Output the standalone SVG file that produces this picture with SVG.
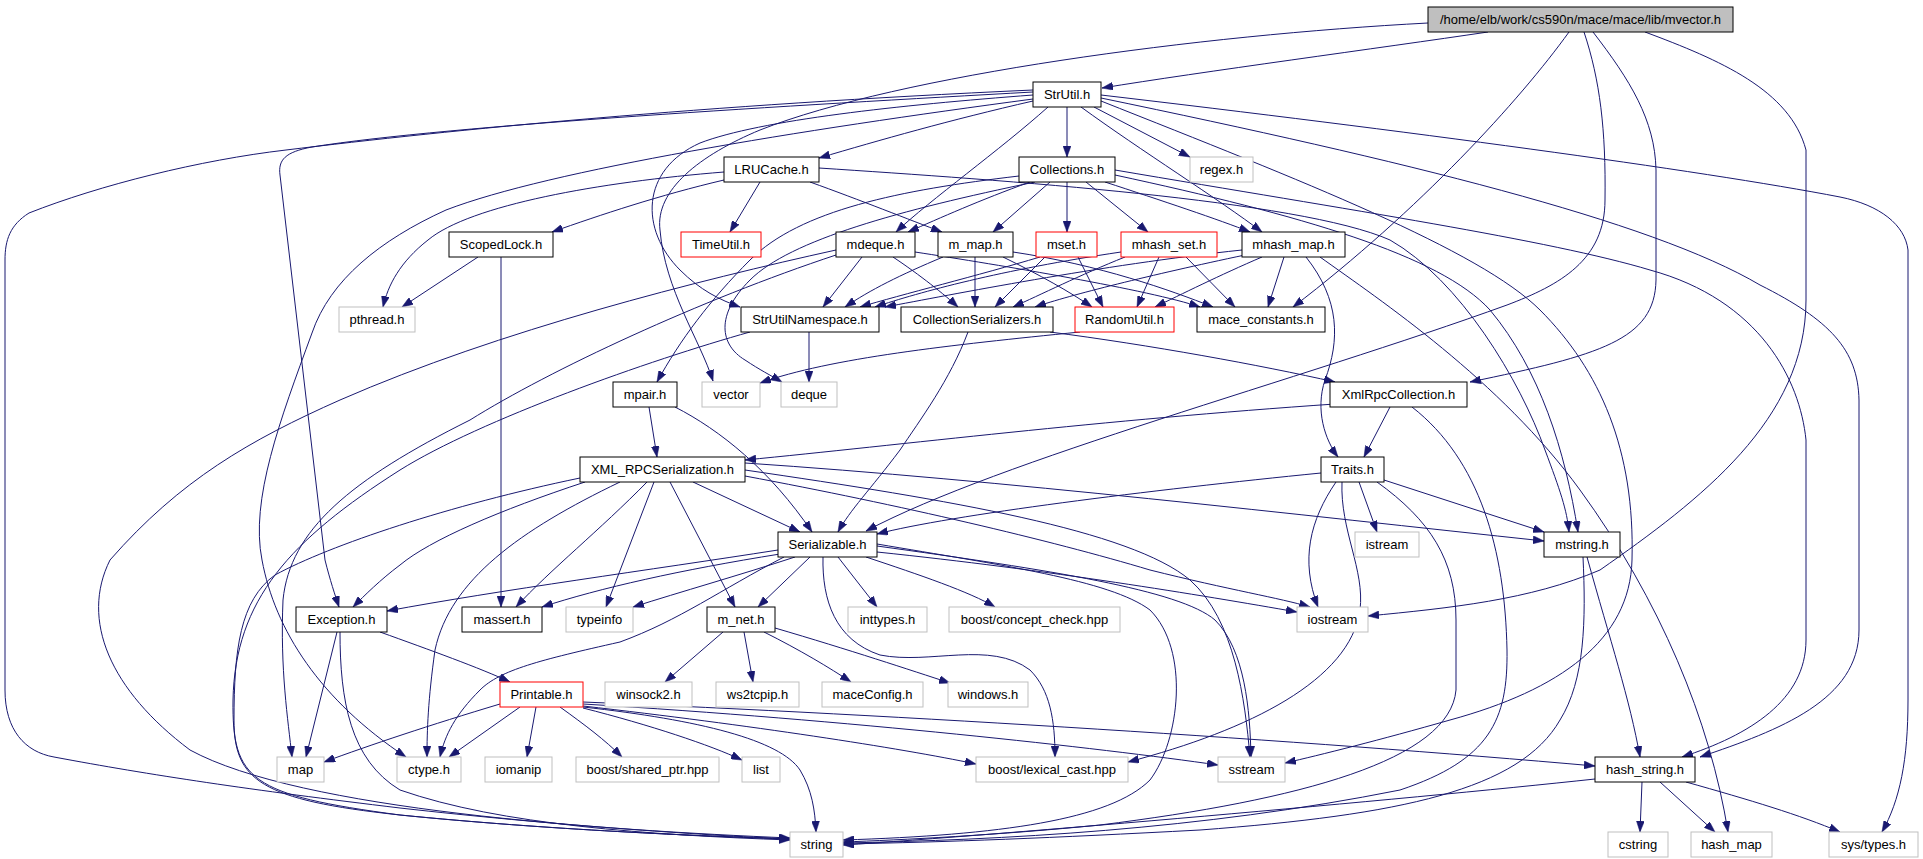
<svg xmlns="http://www.w3.org/2000/svg" width="1923" height="859" viewBox="0 0 1923 859">
<defs>
<marker id="ah" markerUnits="userSpaceOnUse" markerWidth="12" markerHeight="8" refX="11" refY="4" orient="auto">
<path d="M0,0 L11,4 L0,8 Z" fill="#191970" stroke="#191970" stroke-width="0.5"/>
</marker>
<style>
.b{fill:#fff;stroke:#000;stroke-width:1}
.g{fill:#fff;stroke:#bfbfbf;stroke-width:1}
.r{fill:#fff;stroke:#ff0000;stroke-width:1}
.root{fill:#bfbfbf;stroke:#000;stroke-width:1}
text{font-family:"Liberation Sans",Arial,sans-serif;font-size:13px;fill:#000;text-anchor:middle}
#edges path{fill:none;stroke:#191970;stroke-width:1;marker-end:url(#ah)}
</style>
</defs>
<rect x="0" y="0" width="1923" height="859" fill="#fff"/>
<g id="edges">
<path d="M1488,32 C1380,48 1200,72 1102,88"/>
<path d="M1428,23 C1200,35 900,75 760,130 C700,155 655,190 660,230 C665,290 700,340 713,381"/>
<path d="M1569,32 C1520,100 1420,210 1293,307"/>
<path d="M1584,32 C1600,80 1606,130 1605,200 C1605,260 1560,285 1507,305 C1300,380 1000,460 866,531"/>
<path d="M1593,32 C1630,80 1655,120 1656,170 L1656,280 C1655,340 1600,355 1470,382"/>
<path d="M1645,32 C1720,60 1790,90 1806,150 L1806,300 C1806,420 1700,500 1600,570 C1530,600 1450,608 1368,616"/>
<path d="M1033,101 C950,120 880,140 819,158"/>
<path d="M1067,107 L1067,157"/>
<path d="M1094,107 L1190,157"/>
<path d="M1048,107 C1000,150 930,200 896,232"/>
<path d="M1081,107 C1140,150 1220,200 1262,232"/>
<path d="M1033,95 C900,105 760,120 700,143 C640,170 640,230 680,270 C700,290 720,300 740,307"/>
<path d="M1033,92 C800,105 450,125 312,147 C285,152 278,160 280,175 L325,560 C330,580 335,595 339,607"/>
<path d="M1033,90 C700,105 450,130 286,150 C200,160 100,185 29,213 C10,225 5,240 5,260 L5,690 C5,730 25,752 54,757 C150,775 250,790 400,808 C550,825 700,835 790,839"/>
<path d="M1033,99 C800,130 550,170 446,210 C380,240 330,280 312,333 C280,420 250,500 262,560 C275,630 320,700 406,757"/>
<path d="M1101,101 C1300,180 1480,250 1540,310 C1600,370 1635,450 1632,560 C1630,640 1560,690 1450,720 C1380,740 1320,755 1285,763"/>
<path d="M1101,98 C1400,160 1650,220 1760,285 C1830,320 1858,350 1859,400 L1859,630 C1859,700 1780,730 1700,757"/>
<path d="M1101,95 C1400,130 1700,170 1840,197 C1880,205 1905,225 1908,250 L1908,700 C1908,760 1900,800 1882,832"/>
<path d="M760,182 L730,232"/>
<path d="M810,182 C860,200 910,220 942,232"/>
<path d="M724,172 C600,182 470,205 428,240 C400,262 388,285 383,307"/>
<path d="M724,180 C660,195 600,215 552,232"/>
<path d="M819,168 C1000,180 1300,200 1390,240 C1460,280 1520,380 1545,450 C1560,490 1567,510 1569,532"/>
<path d="M1030,182 C980,200 940,218 908,232"/>
<path d="M1050,182 L993,232"/>
<path d="M1067,182 L1067,232"/>
<path d="M1086,182 L1148,232"/>
<path d="M1105,182 C1160,200 1220,220 1250,232"/>
<path d="M1019,176 C900,190 800,210 750,260 C710,300 680,340 657,382"/>
<path d="M1035,182 C900,210 790,240 750,280 C715,315 720,345 745,360 C760,370 770,375 782,382"/>
<path d="M1115,175 C1300,215 1440,255 1490,310 C1540,370 1565,450 1578,532"/>
<path d="M1115,170 C1350,210 1550,240 1650,270 C1760,300 1800,380 1806,440 L1806,640 C1806,700 1750,735 1682,757"/>
<path d="M862,257 L823,307"/>
<path d="M893,257 C920,275 945,295 958,307"/>
<path d="M915,252 C1000,265 1150,290 1200,307"/>
<path d="M836,250 C700,280 500,330 340,400 C250,440 180,480 110,560 C80,620 110,690 190,750 C300,810 600,830 790,838"/>
<path d="M836,255 C700,300 550,370 470,420 C350,480 290,530 283,600 C280,670 288,720 292,757"/>
<path d="M943,257 C900,275 870,290 845,307"/>
<path d="M975,257 L975,307"/>
<path d="M1003,257 C1040,275 1070,292 1092,307"/>
<path d="M1013,252 C1100,265 1170,290 1213,307"/>
<path d="M1040,257 C980,275 900,295 860,307"/>
<path d="M1045,257 L995,307"/>
<path d="M1078,257 L1103,307"/>
<path d="M1121,252 C1000,270 920,292 875,307"/>
<path d="M1125,257 C1080,275 1040,295 1013,307"/>
<path d="M1159,257 L1137,307"/>
<path d="M1186,257 L1235,307"/>
<path d="M1242,250 C1100,265 950,295 885,307"/>
<path d="M1245,255 C1150,275 1070,295 1035,307"/>
<path d="M1262,257 C1220,275 1180,295 1155,307"/>
<path d="M1284,257 L1268,307"/>
<path d="M1306,257 C1340,300 1340,340 1325,380 C1315,410 1325,440 1338,457"/>
<path d="M1320,257 C1380,300 1500,380 1580,490 C1660,600 1710,720 1728,832"/>
<path d="M809,332 L809,382"/>
<path d="M750,332 C650,360 480,420 400,470 C290,540 235,600 233,700 C232,780 250,795 400,815 C550,830 700,836 790,839"/>
<path d="M968,332 C950,380 920,420 900,450 C870,490 850,510 838,532"/>
<path d="M1050,332 C1150,345 1260,365 1335,382"/>
<path d="M1080,332 C950,345 830,358 760,383"/>
<path d="M649,407 L657,457"/>
<path d="M675,407 C720,430 770,470 812,532"/>
<path d="M1335,404 C1100,420 900,445 745,460"/>
<path d="M1390,407 L1364,457"/>
<path d="M1412,407 C1480,460 1505,550 1507,650 C1508,720 1490,760 1400,790 C1200,830 1000,840 843,843"/>
<path d="M1321,473 C1150,490 950,515 877,534"/>
<path d="M1359,482 L1377,532"/>
<path d="M1384,480 L1544,532"/>
<path d="M1336,482 C1310,520 1300,560 1318,607"/>
<path d="M1342,482 C1340,530 1365,570 1360,610 C1350,680 1250,730 1128,762"/>
<path d="M1377,482 C1430,520 1456,560 1456,620 L1456,690 C1450,760 1300,800 1100,825 C1000,835 900,840 843,842"/>
<path d="M693,482 L800,532"/>
<path d="M670,482 L735,607"/>
<path d="M654,482 L606,607"/>
<path d="M647,482 C600,530 550,570 516,607"/>
<path d="M585,482 C500,510 430,540 400,565 C380,580 365,595 353,607"/>
<path d="M620,482 C520,530 450,580 435,650 C428,700 427,730 427,757"/>
<path d="M580,478 C450,505 330,545 275,575 C240,600 234,650 234,720 C234,780 260,800 400,815 C550,830 700,836 790,839"/>
<path d="M745,463 C1000,480 1300,515 1544,541"/>
<path d="M745,476 C900,505 1050,540 1150,570 C1230,590 1280,598 1310,607"/>
<path d="M745,470 C950,500 1130,530 1190,580 C1235,620 1245,700 1250,757"/>
<path d="M778,550 C650,570 500,590 387,611"/>
<path d="M780,554 C680,570 600,588 542,607"/>
<path d="M795,557 C740,575 680,592 633,607"/>
<path d="M810,557 L758,607"/>
<path d="M838,557 L877,607"/>
<path d="M866,557 C920,575 970,592 995,607"/>
<path d="M877,552 C1050,570 1200,595 1297,612"/>
<path d="M877,546 C1050,570 1180,590 1215,620 C1245,650 1250,710 1251,757"/>
<path d="M877,544 C1000,565 1110,580 1150,610 C1190,650 1180,740 1150,780 C1110,820 1000,835 843,840"/>
<path d="M823,557 C822,600 835,640 880,655 C930,665 990,640 1030,670 C1050,690 1055,720 1055,757"/>
<path d="M784,557 C720,590 680,620 620,642 C540,660 500,670 480,690 C455,715 445,735 440,757"/>
<path d="M380,632 C430,650 480,668 510,682"/>
<path d="M337,632 L306,757"/>
<path d="M340,632 C340,700 350,760 400,790 C500,825 650,835 790,840"/>
<path d="M478,257 L402,307"/>
<path d="M501,257 L501,607"/>
<path d="M500,704 C430,725 370,745 324,762"/>
<path d="M520,707 L449,757"/>
<path d="M536,707 L527,757"/>
<path d="M560,707 C585,725 605,740 622,757"/>
<path d="M583,708 C650,725 710,745 742,760"/>
<path d="M583,706 C750,725 900,748 976,764"/>
<path d="M583,704 C850,720 1100,748 1218,765"/>
<path d="M583,702 C900,715 1300,740 1595,766"/>
<path d="M583,707 C700,720 780,740 800,770 C812,790 815,810 816,832"/>
<path d="M723,632 L665,682"/>
<path d="M744,632 L753,682"/>
<path d="M764,632 C800,650 830,668 851,682"/>
<path d="M775,628 C850,650 910,670 950,683"/>
<path d="M1587,557 C1610,640 1630,700 1640,757"/>
<path d="M1583,557 C1586,620 1585,680 1560,720 C1520,790 1400,815 1200,830 C1050,838 950,842 843,844"/>
<path d="M1642,782 L1640,832"/>
<path d="M1660,782 L1715,832"/>
<path d="M1686,782 C1750,800 1800,815 1840,832"/>
<path d="M1595,779 C1400,800 1000,835 843,845"/>
</g>
<g id="n_mvector"><rect class="root" x="1428" y="7" width="305" height="25"/><text x="1580.5" y="24">/home/elb/work/cs590n/mace/mace/lib/mvector.h</text></g>
<g id="n_StrUtil"><rect class="b" x="1033" y="82" width="68" height="25"/><text x="1067" y="99">StrUtil.h</text></g>
<g id="n_LRUCache"><rect class="b" x="724" y="157" width="95" height="25"/><text x="771.5" y="174">LRUCache.h</text></g>
<g id="n_Collections"><rect class="b" x="1019" y="157" width="96" height="25"/><text x="1067" y="174">Collections.h</text></g>
<g id="n_regex"><rect class="g" x="1190" y="157" width="63" height="25"/><text x="1221.5" y="174">regex.h</text></g>
<g id="n_ScopedLock"><rect class="b" x="449" y="232" width="104" height="25"/><text x="501" y="249">ScopedLock.h</text></g>
<g id="n_TimeUtil"><rect class="r" x="681" y="232" width="80" height="25"/><text x="721" y="249">TimeUtil.h</text></g>
<g id="n_mdeque"><rect class="b" x="836" y="232" width="79" height="25"/><text x="875.5" y="249">mdeque.h</text></g>
<g id="n_m_map"><rect class="b" x="938" y="232" width="75" height="25"/><text x="975.5" y="249">m_map.h</text></g>
<g id="n_mset"><rect class="r" x="1036" y="232" width="61" height="25"/><text x="1066.5" y="249">mset.h</text></g>
<g id="n_mhash_set"><rect class="r" x="1121" y="232" width="96" height="25"/><text x="1169" y="249">mhash_set.h</text></g>
<g id="n_mhash_map"><rect class="b" x="1242" y="232" width="103" height="25"/><text x="1293.5" y="249">mhash_map.h</text></g>
<g id="n_pthread"><rect class="g" x="339" y="307" width="76" height="25"/><text x="377" y="324">pthread.h</text></g>
<g id="n_StrUtilNamespace"><rect class="b" x="741" y="307" width="138" height="25"/><text x="810" y="324">StrUtilNamespace.h</text></g>
<g id="n_CollectionSerializers"><rect class="b" x="901" y="307" width="152" height="25"/><text x="977" y="324">CollectionSerializers.h</text></g>
<g id="n_RandomUtil"><rect class="r" x="1075" y="307" width="99" height="25"/><text x="1124.5" y="324">RandomUtil.h</text></g>
<g id="n_mace_constants"><rect class="b" x="1197" y="307" width="128" height="25"/><text x="1261" y="324">mace_constants.h</text></g>
<g id="n_mpair"><rect class="b" x="613" y="382" width="64" height="25"/><text x="645" y="399">mpair.h</text></g>
<g id="n_vector"><rect class="g" x="702" y="382" width="58" height="25"/><text x="731" y="399">vector</text></g>
<g id="n_deque"><rect class="g" x="781" y="382" width="56" height="25"/><text x="809" y="399">deque</text></g>
<g id="n_XmlRpcCollection"><rect class="b" x="1330" y="382" width="137" height="25"/><text x="1398.5" y="399">XmlRpcCollection.h</text></g>
<g id="n_XML_RPCSerialization"><rect class="b" x="580" y="457" width="165" height="25"/><text x="662.5" y="474">XML_RPCSerialization.h</text></g>
<g id="n_Traits"><rect class="b" x="1321" y="457" width="63" height="25"/><text x="1352.5" y="474">Traits.h</text></g>
<g id="n_Serializable"><rect class="b" x="778" y="532" width="99" height="25"/><text x="827.5" y="549">Serializable.h</text></g>
<g id="n_istream"><rect class="g" x="1355" y="532" width="64" height="25"/><text x="1387" y="549">istream</text></g>
<g id="n_mstring"><rect class="b" x="1544" y="532" width="76" height="25"/><text x="1582" y="549">mstring.h</text></g>
<g id="n_Exception"><rect class="b" x="296" y="607" width="91" height="25"/><text x="341.5" y="624">Exception.h</text></g>
<g id="n_massert"><rect class="b" x="462" y="607" width="80" height="25"/><text x="502" y="624">massert.h</text></g>
<g id="n_typeinfo"><rect class="g" x="566" y="607" width="67" height="25"/><text x="599.5" y="624">typeinfo</text></g>
<g id="n_m_net"><rect class="b" x="707" y="607" width="68" height="25"/><text x="741" y="624">m_net.h</text></g>
<g id="n_inttypes"><rect class="g" x="848" y="607" width="79" height="25"/><text x="887.5" y="624">inttypes.h</text></g>
<g id="n_concept_check"><rect class="g" x="949" y="607" width="171" height="25"/><text x="1034.5" y="624">boost/concept_check.hpp</text></g>
<g id="n_iostream"><rect class="g" x="1297" y="607" width="71" height="25"/><text x="1332.5" y="624">iostream</text></g>
<g id="n_Printable"><rect class="r" x="500" y="682" width="83" height="25"/><text x="541.5" y="699">Printable.h</text></g>
<g id="n_winsock2"><rect class="g" x="605" y="682" width="87" height="25"/><text x="648.5" y="699">winsock2.h</text></g>
<g id="n_ws2tcpip"><rect class="g" x="716" y="682" width="83" height="25"/><text x="757.5" y="699">ws2tcpip.h</text></g>
<g id="n_maceConfig"><rect class="g" x="822" y="682" width="101" height="25"/><text x="872.5" y="699">maceConfig.h</text></g>
<g id="n_windows"><rect class="g" x="948" y="682" width="80" height="25"/><text x="988" y="699">windows.h</text></g>
<g id="n_map"><rect class="g" x="277" y="757" width="47" height="25"/><text x="300.5" y="774">map</text></g>
<g id="n_ctype"><rect class="g" x="397" y="757" width="64" height="25"/><text x="429" y="774">ctype.h</text></g>
<g id="n_iomanip"><rect class="g" x="485" y="757" width="67" height="25"/><text x="518.5" y="774">iomanip</text></g>
<g id="n_shared_ptr"><rect class="g" x="576" y="757" width="143" height="25"/><text x="647.5" y="774">boost/shared_ptr.hpp</text></g>
<g id="n_list"><rect class="g" x="742" y="757" width="38" height="25"/><text x="761" y="774">list</text></g>
<g id="n_lexical_cast"><rect class="g" x="976" y="757" width="152" height="25"/><text x="1052" y="774">boost/lexical_cast.hpp</text></g>
<g id="n_sstream"><rect class="g" x="1218" y="757" width="67" height="25"/><text x="1251.5" y="774">sstream</text></g>
<g id="n_hash_string"><rect class="b" x="1595" y="757" width="100" height="25"/><text x="1645" y="774">hash_string.h</text></g>
<g id="n_string"><rect class="g" x="790" y="832" width="53" height="25"/><text x="816.5" y="849">string</text></g>
<g id="n_cstring"><rect class="g" x="1608" y="832" width="60" height="25"/><text x="1638" y="849">cstring</text></g>
<g id="n_hash_map"><rect class="g" x="1691" y="832" width="81" height="25"/><text x="1731.5" y="849">hash_map</text></g>
<g id="n_sys_types"><rect class="g" x="1829" y="832" width="89" height="25"/><text x="1873.5" y="849">sys/types.h</text></g>
</svg>
